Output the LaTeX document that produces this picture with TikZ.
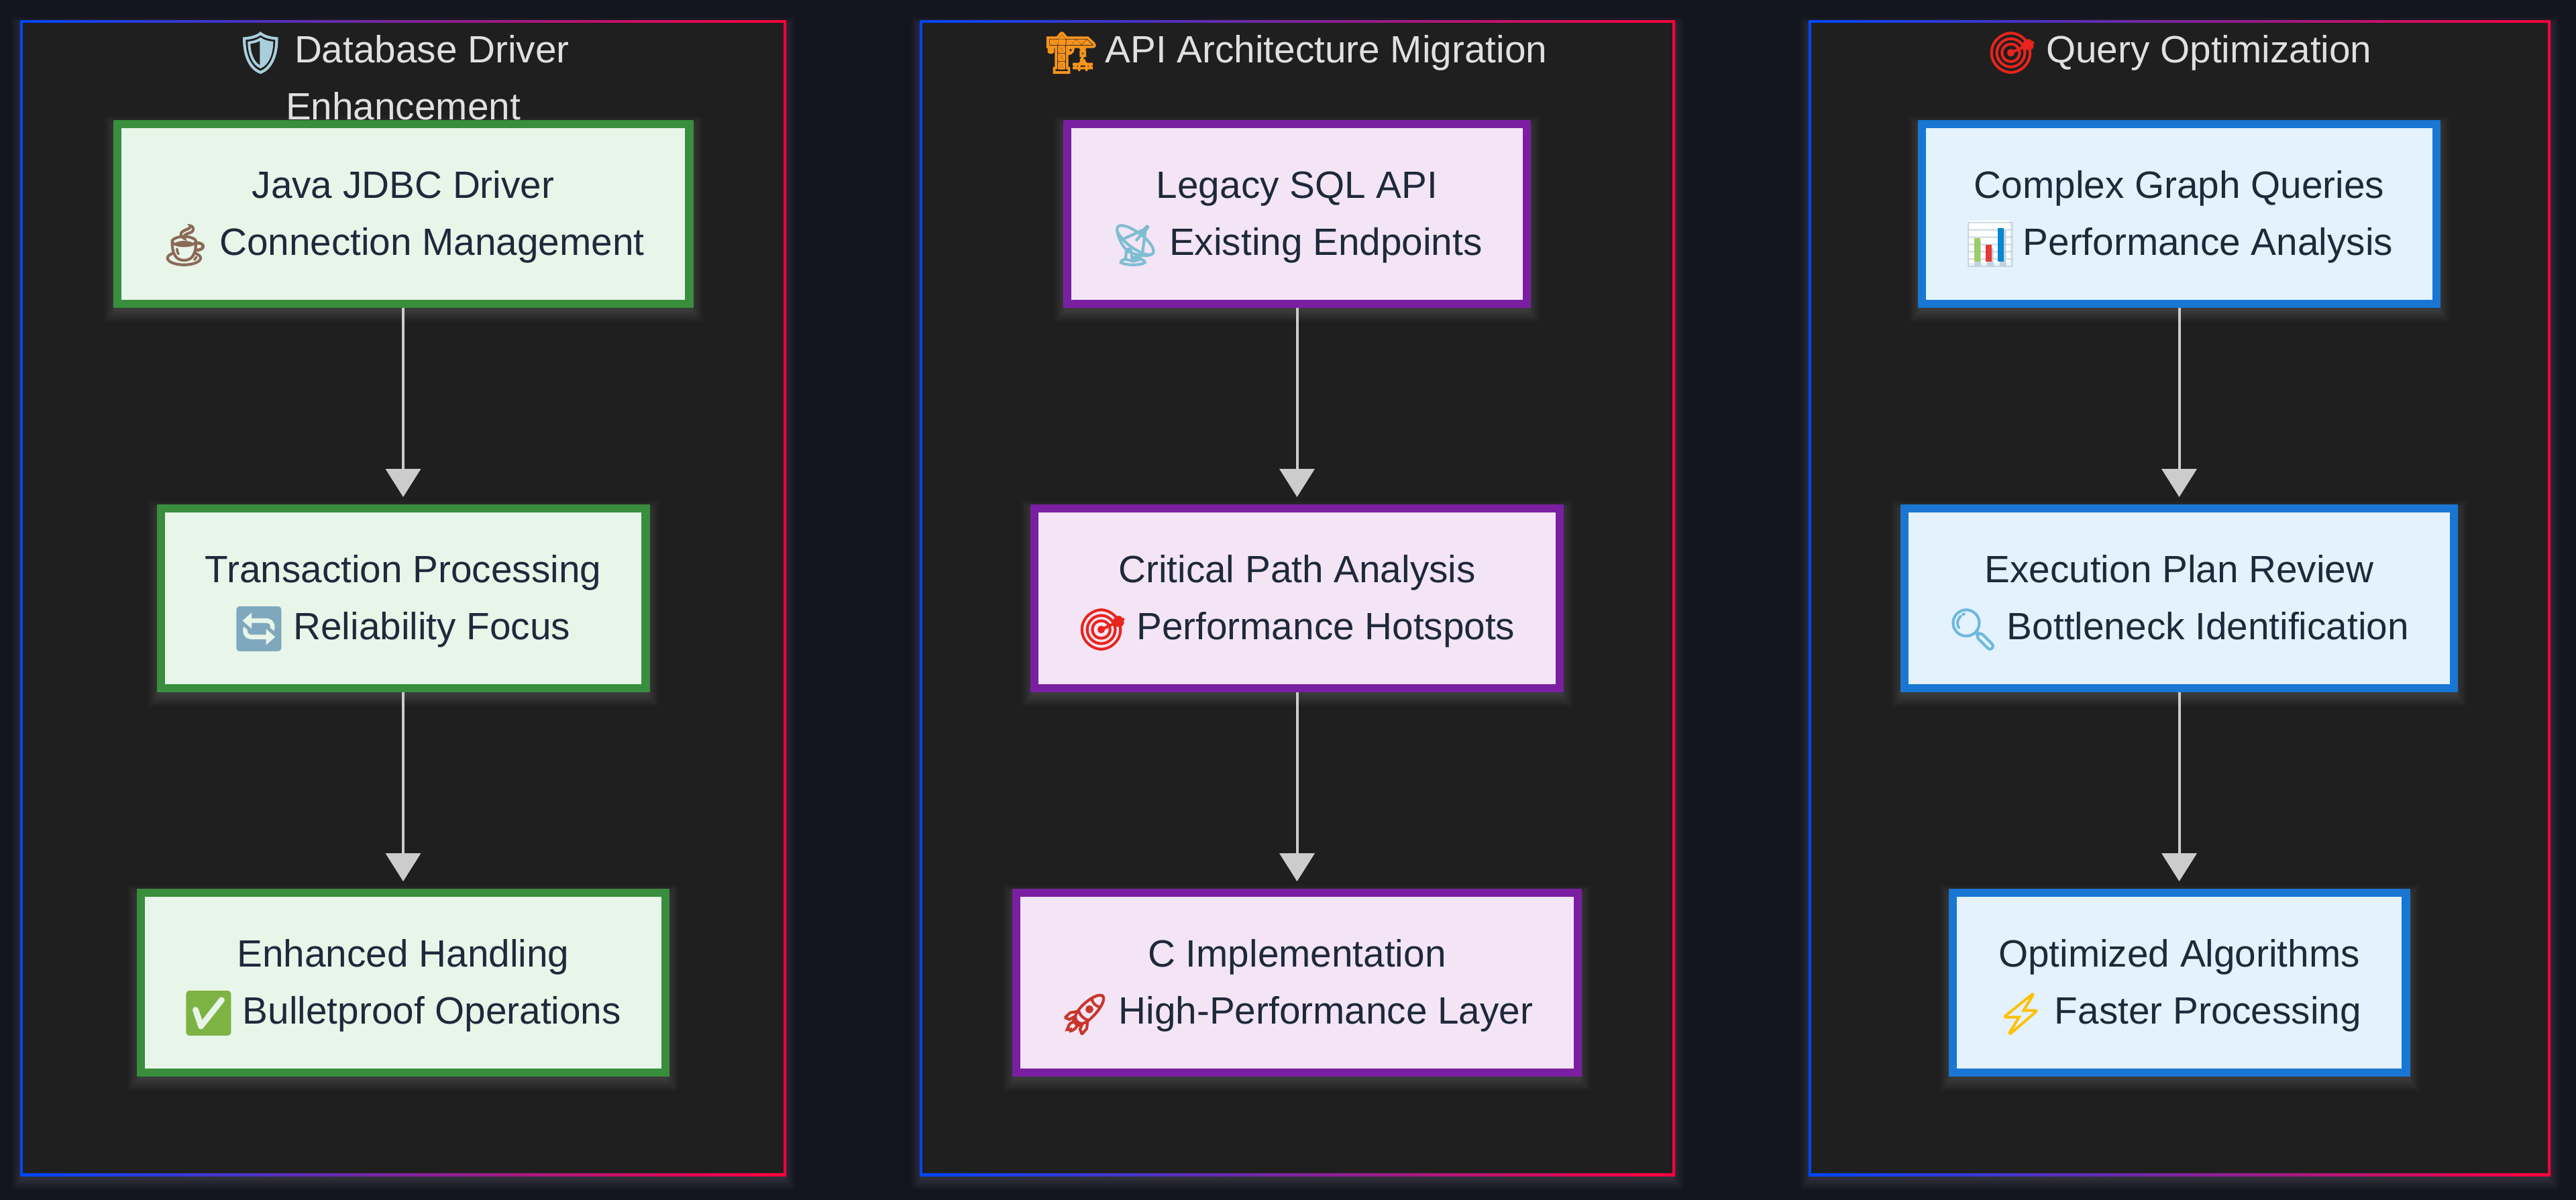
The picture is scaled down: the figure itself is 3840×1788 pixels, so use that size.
\documentclass[tikz,border=0pt]{standalone}
\usepackage{fontspec}
\setmainfont{Liberation Sans}
\newfontfamily\emojifont{Noto Emoji}
\newfontfamily\emojibold[FakeBold=3]{Noto Emoji}
\usetikzlibrary{arrows.meta}
\definecolor{pagebg}{HTML}{14141F}
\definecolor{panelbg}{HTML}{1F1F1F}
\definecolor{fblue}{HTML}{0047FF}
\definecolor{fred}{HTML}{FF003C}
\definecolor{titlec}{HTML}{E0E0E0}
\definecolor{inkc}{HTML}{1E293B}
\definecolor{edgec}{HTML}{CCCCCC}
\definecolor{gfill}{HTML}{E8F5E9}\definecolor{gline}{HTML}{388E3C}
\definecolor{pfill}{HTML}{F3E5F5}\definecolor{pline}{HTML}{7B1FA2}
\definecolor{bfill}{HTML}{E3F2FD}\definecolor{bline}{HTML}{1976D2}
\definecolor{eshield}{HTML}{A9CFDB}
\definecolor{ecrane}{HTML}{F7941D}
\definecolor{etarget}{HTML}{E8241C}
\definecolor{ecoffee}{HTML}{8A6A58}
\definecolor{erefresh}{HTML}{7FA8BE}
\definecolor{echeck}{HTML}{7CB342}
\definecolor{edish}{HTML}{7FBDD3}
\definecolor{erocket}{HTML}{C9362B}
\definecolor{egrid}{HTML}{C3D2D9}
\definecolor{elens}{HTML}{6FB8DE}
\definecolor{ebolt}{HTML}{FFC107}
\newcommand{\bodyfont}{\fontsize{56.7pt}{85pt}\selectfont}
\newcommand{\lstrut}{\rule[-24pt]{0pt}{85pt}}
% emoji glyph in a fixed-width slot: plain (for solid glyphs) and emboldened
\newcommand{\emo}[2]{\makebox[70pt][c]{\raisebox{-7pt}{\emojifont\fontsize{66pt}{66pt}\selectfont\color{#2}#1}}}
\newcommand{\emob}[2]{\makebox[70pt][c]{\raisebox{-6pt}{\emojibold\fontsize{60pt}{60pt}\selectfont\color{#2}#1}}}
% bar chart: white sheet, glyph, coloured bars
\newcommand{\emochart}{\makebox[70pt][c]{%
  \rlap{\color{white}\rule[-12pt]{62pt}{63pt}}%
  \rlap{\raisebox{-7pt}{\hspace{-8pt}\emojifont\fontsize{66pt}{66pt}\selectfont\color{egrid}📊}}%
  \rlap{\hspace{9pt}\color[HTML]{9CCC65}\rule[-10pt]{9pt}{35pt}}%
  \rlap{\hspace{26pt}\color[HTML]{E53935}\rule[-10pt]{9pt}{25pt}}%
  \rlap{\hspace{44pt}\color[HTML]{0288D1}\rule[-10pt]{9pt}{50pt}}%
  \hspace{62pt}}}
\tikzset{
  flowbox/.style={rectangle,draw,line width=12.3pt,inner sep=0pt,align=center,text=inkc,font=\bodyfont,minimum height=267.7pt},
  greenbox/.style={flowbox,fill=gfill,draw=gline},
  purplebox/.style={flowbox,fill=pfill,draw=pline},
  bluebox/.style={flowbox,fill=bfill,draw=bline},
  paneltitle/.style={inner sep=0pt,align=center,text=titlec,font=\bodyfont,anchor=north},
  panelbody/.style={rectangle,fill=panelbg,inner sep=0pt,outer sep=0pt},
  flowarrow/.style={draw=edgec,line width=4pt,shorten >=11pt,-{Triangle[width=52pt,length=42pt,fill=edgec]}}
}
\newcommand{\softshadow}[4]{%
  \foreach \r in {13,11,9,7,5,3,1,-1,-3}{%
    \fill[white,fill opacity=.017] ({#1-\r},{#2-\r+8}) rectangle ({#3+\r},{#4+\r+8});
  }}
\newcommand{\panel}[3]{%
  \softshadow{#2}{30}{#3}{1753}
  \shade[left color=fblue,right color=fred] (#2,30) rectangle (#3,1753);
  \node[panelbody,minimum width={(#3-#2-8.6)*1pt},minimum height=1714.4pt] (#1) at ({(#2+#3)/2},891.5) {};
}
\newcommand{\flownode}[6]{%
  \softshadow{#3-#5/2}{#4-140}{#3+#5/2}{#4+140}
  \node[#2,minimum width={(#5-12.3)*1pt}] (#1) at (#3,#4) {#6};
}
\begin{document}
\begin{tikzpicture}[x=1pt,y=-1pt]
\useasboundingbox (0,0) rectangle (3840,1788);
\fill[pagebg] (-6,-6) rectangle (3846,1794);
\panel{p1}{30}{1172}
\panel{p2}{1371}{2497}
\panel{p3}{2696}{3802}
\node[paneltitle] (t1) at (601,32) {\lstrut\emob{🛡}{eshield} Database Driver\hspace{36pt}\\\lstrut Enhancement};
\node[paneltitle] (t2) at (1934,32) {\lstrut\emob{🏗}{ecrane} API Architecture Migration};
\node[paneltitle] (t3) at (3250,32) {\lstrut\emob{🎯}{etarget} Query Optimization};
\flownode{a1}{greenbox}{601}{319}{865}{\lstrut Java JDBC Driver\\\lstrut\emob{☕}{ecoffee} Connection Management}
\flownode{a2}{greenbox}{601}{892}{735}{\lstrut Transaction Processing\\\lstrut\emo{🔄}{erefresh} Reliability Focus}
\flownode{a3}{greenbox}{601}{1465}{794}{\lstrut Enhanced Handling\\\lstrut\emo{✅}{echeck} Bulletproof Operations}
\flownode{b1}{purplebox}{1933.5}{319}{697}{\lstrut Legacy SQL API\\\lstrut\emob{📡}{edish} Existing Endpoints}
\flownode{b2}{purplebox}{1933.5}{892}{795}{\lstrut Critical Path Analysis\\\lstrut\emob{🎯}{etarget} Performance Hotspots}
\flownode{b3}{purplebox}{1933.5}{1465}{849}{\lstrut C Implementation\\\lstrut\emob{🚀}{erocket} High-Performance Layer}
\flownode{c1}{bluebox}{3248.5}{319}{779}{\lstrut Complex Graph Queries\\\lstrut\emochart{} Performance Analysis}
\flownode{c2}{bluebox}{3248.5}{892}{831}{\lstrut Execution Plan Review\\\lstrut\emob{🔍}{elens} Bottleneck Identification}
\flownode{c3}{bluebox}{3248.5}{1465}{688}{\lstrut Optimized Algorithms\\\lstrut\emob{⚡}{ebolt} Faster Processing}
\draw[flowarrow] (a1.south) -- (a2.north);
\draw[flowarrow] (a2.south) -- (a3.north);
\draw[flowarrow] (b1.south) -- (b2.north);
\draw[flowarrow] (b2.south) -- (b3.north);
\draw[flowarrow] (c1.south) -- (c2.north);
\draw[flowarrow] (c2.south) -- (c3.north);
\end{tikzpicture}
\end{document}
